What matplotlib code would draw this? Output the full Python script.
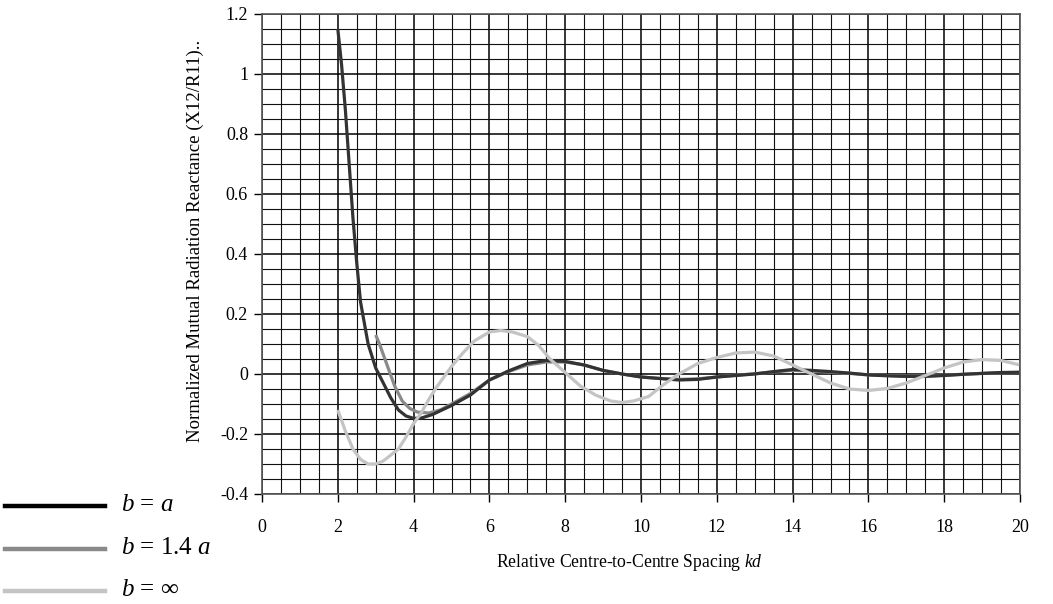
import matplotlib
matplotlib.use("Agg")
import matplotlib.pyplot as plt
from matplotlib.lines import Line2D
from matplotlib.ticker import MultipleLocator, FixedLocator

plt.rcParams['font.family'] = ['Liberation Serif', 'DejaVu Serif']
plt.rcParams['mathtext.fontset'] = 'custom'
plt.rcParams['mathtext.rm'] = 'Liberation Serif'
plt.rcParams['mathtext.it'] = 'Liberation Serif:italic'

# b = a
x_a = [2.0, 2.1, 2.2, 2.3, 2.4, 2.5, 2.6, 2.7, 2.8, 2.9, 3.0, 3.2, 3.4, 3.6, 3.8, 4.0,
       4.2, 4.5, 5.0, 5.5, 6.0, 6.5, 7.0, 7.5, 8.0, 8.5, 9.0, 9.5, 10.0, 10.5, 11.0,
       11.5, 12.0, 12.5, 13.0, 13.5, 14.0, 14.5, 15.0, 15.5, 16.0, 16.5, 17.0, 17.5,
       18.0, 18.5, 19.0, 19.5, 20.0]
y_a = [1.15, 1.03, 0.88, 0.70, 0.52, 0.37, 0.24, 0.17, 0.10, 0.06, 0.02, -0.03, -0.08,
       -0.12, -0.14, -0.148, -0.147, -0.135, -0.105, -0.07, -0.02, 0.01, 0.035, 0.045,
       0.042, 0.03, 0.012, 0.0, -0.01, -0.015, -0.02, -0.018, -0.01, -0.005, 0.0, 0.008,
       0.015, 0.012, 0.008, 0.003, -0.003, -0.006, -0.008, -0.008, -0.005, -0.001,
       0.002, 0.005, 0.006]

# b = 1.4 a
x_b = [3.0, 3.1, 3.3, 3.5, 3.7, 3.9, 4.1, 4.4, 4.7, 5.0, 5.5, 6.0, 6.5, 7.0, 7.5, 8.0,
       8.5, 9.0, 9.5, 10.0, 10.5, 11.0, 11.5, 12.0, 12.5, 13.0, 13.5, 14.0, 14.5, 15.0,
       15.5, 16.0, 16.5, 17.0, 17.5, 18.0, 18.5, 19.0, 19.5, 20.0]
y_b = [0.13, 0.10, 0.03, -0.04, -0.09, -0.115, -0.127, -0.13, -0.12, -0.10, -0.065,
       -0.02, 0.008, 0.03, 0.04, 0.04, 0.03, 0.012, 0.0, -0.01, -0.015, -0.018, -0.016,
       -0.01, -0.004, 0.001, 0.007, 0.012, 0.010, 0.006, 0.002, -0.003, -0.005, -0.007,
       -0.007, -0.004, -0.001, 0.002, 0.004, 0.005]

# b = infinity
x_c = [2.0, 2.2, 2.4, 2.6, 2.8, 3.0, 3.2, 3.4, 3.6, 3.8, 4.0, 4.2, 4.4, 4.6, 4.8, 5.0,
       5.3, 5.6, 6.0, 6.3, 6.6, 7.0, 7.3, 7.6, 8.0, 8.4, 8.8, 9.2, 9.5, 9.8, 10.2, 10.6,
       11.0, 11.5, 12.0, 12.5, 13.0, 13.5, 14.0, 14.5, 15.0, 15.5, 16.0, 16.5, 17.0,
       17.5, 18.0, 18.5, 19.0, 19.5, 20.0]
y_c = [-0.12, -0.19, -0.25, -0.285, -0.30, -0.30, -0.29, -0.27, -0.25, -0.21, -0.165,
       -0.13, -0.085, -0.045, -0.01, 0.025, 0.07, 0.11, 0.14, 0.145, 0.14, 0.125, 0.095,
       0.05, 0.005, -0.04, -0.07, -0.09, -0.095, -0.09, -0.075, -0.035, 0.0, 0.035,
       0.055, 0.07, 0.073, 0.06, 0.03, 0.0, -0.03, -0.05, -0.055, -0.048, -0.03,
       -0.005, 0.02, 0.04, 0.048, 0.045, 0.03]

labels = ['$b$ = $a$', '$b$ = 1.4 $a$', '$b$ = ∞']
colors = ['#333333', '#8a8a8a', '#c4c4c4']
legend_colors = ['#000000', '#8a8a8a', '#c4c4c4']

x_ticks = [0, 2, 4, 6, 8, 10, 12, 14, 16, 18, 20]
y_ticks = [-0.4, -0.2, 0, 0.2, 0.4, 0.6, 0.8, 1.0, 1.2]
y_tick_labels = ['-0.4', '-0.2', '0', '0.2', '0.4', '0.6', '0.8', '1', '1.2']

W, H = 1053, 604
fig = plt.figure(figsize=(W/100, H/100), dpi=100)
ax = fig.add_axes([262/W, 1 - 494/H, (1020-262)/W, (494-14)/H])

ax.set_xlim(0, 20)
ax.set_ylim(-0.4, 1.2)
ax.xaxis.set_major_locator(FixedLocator(x_ticks))
ax.yaxis.set_major_locator(FixedLocator(y_ticks))
ax.set_xticklabels([str(v) for v in x_ticks])
ax.set_yticklabels(y_tick_labels)
ax.xaxis.set_minor_locator(MultipleLocator(0.5))
ax.yaxis.set_minor_locator(MultipleLocator(0.05))
ax.grid(which='major', color='#000000', lw=1.1)
ax.grid(which='minor', color='#111111', lw=0.8)
ax.set_axisbelow(True)
ax.tick_params(which='major', direction='out', length=6, width=1, labelsize=13)
ax.tick_params(axis='x', pad=12)
ax.tick_params(axis='y', pad=4)
ax.tick_params(which='minor', length=0)
for s in ax.spines.values():
    s.set_color('#555555')
    s.set_linewidth(1.2)

ax.plot(x_b, y_b, color=colors[1], lw=2.3, solid_capstyle='butt')
ax.plot(x_a, y_a, color=colors[0], lw=2.3, solid_capstyle='butt')
ax.plot(x_c, y_c, color=colors[2], lw=2.3, solid_capstyle='butt')

ax.set_xlabel('Relative Centre-to-Centre Spacing $kd$', fontsize=12.7)
ax.xaxis.set_label_coords((629.5 - 262) / 758, (494 - 552) / 480)
ax.set_ylabel('Normalized Mutual Radiation Reactance (X12/R11)..', fontsize=13.5)
ax.yaxis.set_label_coords((204 - 262) / 758, (494 - 241) / 480)

# legend drawn in figure pixel coordinates (outside the axes, bottom-left)
leg_y = [506, 549, 591]
for yy, c, lab in zip(leg_y, legend_colors, labels):
    fig.add_artist(Line2D([5/W, 105/W], [1 - yy/H, 1 - yy/H], color=c, lw=3.2,
                          transform=fig.transFigure))
    fig.text(121/W, 1 - (yy - 1)/H, lab, fontsize=18, va='center', ha='left')

fig.savefig('out.png', dpi=100)
